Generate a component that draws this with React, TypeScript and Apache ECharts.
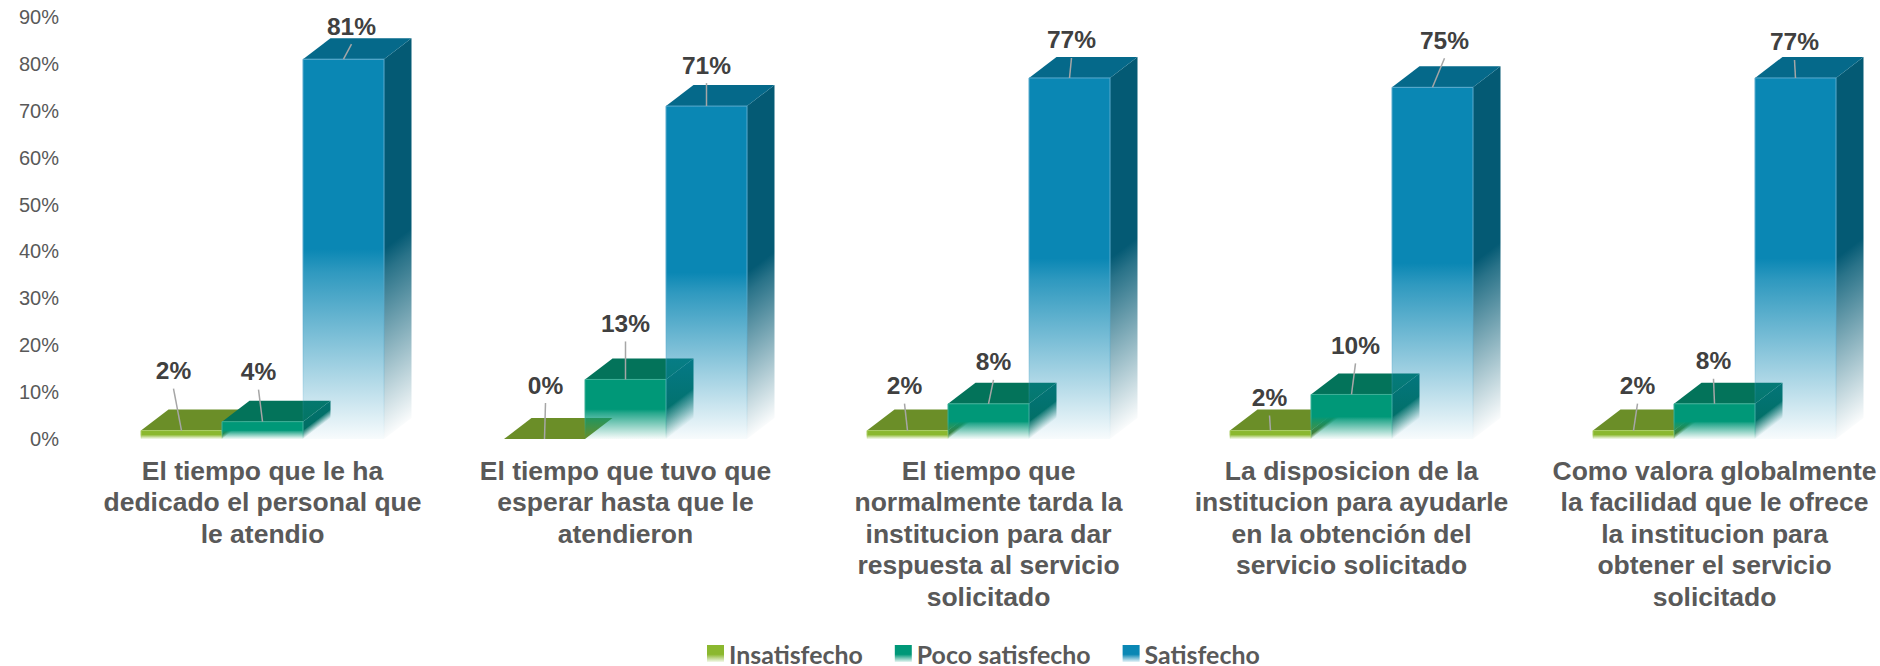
import React, { useEffect, useRef } from "react";
import * as echarts from "echarts";

const categories = [
  "El tiempo que le ha\ndedicado el personal que\nle atendio",
  "El tiempo que tuvo que\nesperar hasta que le\natendieron",
  "El tiempo que\nnormalmente tarda la\ninstitucion para dar\nrespuesta al servicio\nsolicitado",
  "La disposicion de la\ninstitucion para ayudarle\nen la obtención del\nservicio solicitado",
  "Como valora globalmente\nla facilidad que le ofrece\nla institucion para\nobtener el servicio\nsolicitado",
];
const insatisfecho = [1.8, 0, 1.8, 1.8, 1.8];
const pocoSatisfecho = [3.7, 12.7, 7.5, 9.5, 7.5];
const satisfecho = [81, 71, 77, 75, 77];

// Label placement relative to each bar's front top centre, in pixels
const insLabelDx = [-8, 1, -3, -1, 4];
const insLabelDy = [-60, -54, -45, -33, -45];
const pocoLabelDx = [-4, 0, 5, 4, -1];
const pocoLabelDy = [-50, -56, -42, -49, -43];
const satLabelDx = [8, 0, 2, 12, -1];
const satLabelDy = [-33, -41, -38, -47, -36];

const BAR_RATIO = 81 / 363;
const DEPTH_X = 27.5;
const DEPTH_Y = 21;

const fadeStops = (r: number, g: number, b: number, end = 0.03) => [
  { offset: 0, color: `rgba(${r},${g},${b},1)` },
  { offset: 0.5, color: `rgba(${r},${g},${b},1)` },
  { offset: 0.56, color: `rgba(${r},${g},${b},0.85)` },
  { offset: 1, color: `rgba(${r},${g},${b},${end})` },
];
const fade = (r: number, g: number, b: number, end = 0.03) =>
  new echarts.graphic.LinearGradient(0, 0, 0, 1, fadeStops(r, g, b, end));

const palettes = [
  { front: [139, 184, 47], side: [90, 120, 36], top: "#6b8e28", edge: [170, 205, 100] },
  { front: [0, 152, 120], side: [0, 108, 92], top: "#03735a", edge: [60, 175, 150] },
  { front: [10, 135, 180], side: [4, 90, 116], top: "#05698a", edge: [90, 170, 205] },
];

function bar3d(idx: number, dx: number[], dy: number[]) {
  const pal = palettes[idx];
  return (params: any, api: any) => {
    const i = params.dataIndex;
    const v = api.value(1);
    const band = api.size([1, 0])[0];
    const w = band * BAR_RATIO;
    const [cx, yTop] = api.coord([api.value(0), v]);
    const [, yBase] = api.coord([api.value(0), 0]);
    const mid = cx + (idx - 1) * w;
    const x0 = mid - w / 2;
    const x1 = mid + w / 2;
    const h = yBase - yTop;
    const [fr, fg, fb] = pal.front;
    const [sr, sg, sb] = pal.side;
    const [er, eg, eb] = pal.edge;
    const children: any[] = [];
    if (h > 0.5) {
      // Side-face fade follows the shear of the face, so its gradient runs normal to the depth edge
      const norm = Math.hypot(DEPTH_X, DEPTH_Y);
      const nx = DEPTH_Y / norm;
      const ny = DEPTH_X / norm;
      const len = h * ny;
      children.push({
        type: "polygon",
        shape: { points: [[x1, yTop], [x1 + DEPTH_X, yTop - DEPTH_Y], [x1 + DEPTH_X, yBase - DEPTH_Y], [x1, yBase]] },
        style: {
          fill: new echarts.graphic.LinearGradient(x1, yTop, x1 + nx * len, yTop + ny * len, fadeStops(sr, sg, sb, 0.02), true),
        },
      });
    }
    children.push({
      type: "polygon",
      shape: { points: [[x0, yTop], [x0 + DEPTH_X, yTop - DEPTH_Y], [x1 + DEPTH_X, yTop - DEPTH_Y], [x1, yTop]] },
      style: { fill: pal.top },
    });
    if (h > 0.5) {
      children.push({
        type: "rect",
        shape: { x: x0, y: yTop, width: w, height: h },
        style: { fill: fade(fr, fg, fb), stroke: fade(er, eg, eb, 0), lineWidth: 1 },
      });
    }
    const lx = mid + dx[i];
    const ly = yTop + dy[i];
    children.push({
      type: "line",
      shape: { x1: mid, y1: yTop, x2: lx, y2: ly + 18 },
      style: { stroke: "#a6a6a6", lineWidth: 1.5 },
    });
    children.push({
      type: "text",
      style: {
        text: `${Math.round(v)}%`,
        x: lx,
        y: ly,
        align: "center",
        verticalAlign: "middle",
        fontFamily: "Liberation Sans",
        fontSize: 24.5,
        fontWeight: "bold",
        fill: "#404040",
      },
    });
    return { type: "group", children };
  };
}

const legendFill = (c: number[]) =>
  new echarts.graphic.LinearGradient(0, 0, 0, 1, [
    { offset: 0, color: `rgb(${c.join(",")})` },
    { offset: 0.55, color: `rgb(${c.join(",")})` },
    { offset: 1, color: `rgba(${c.join(",")},0.1)` },
  ]);

function series(name: string, idx: number, values: number[], dx: number[], dy: number[]) {
  return {
    type: "custom",
    name,
    coordinateSystem: "cartesian2d",
    clip: false,
    encode: { x: 0, y: 1 },
    data: values.map((v, i) => [i, v]),
    itemStyle: { color: legendFill(palettes[idx].front) },
    renderItem: bar3d(idx, dx, dy),
  };
}

export default function App() {
  const ref = useRef<HTMLDivElement>(null);
  useEffect(() => {
    document.body.style.margin = "0";
    const chart = echarts.init(ref.current!, null, { renderer: "svg" });
    chart.setOption({
      animation: false,
      backgroundColor: "#ffffff",
      grid: { left: 81, top: 17, width: 1815, height: 422, containLabel: false, outerBoundsMode: "none" },
      legend: {
        left: 702,
        top: 636,
        itemWidth: 17,
        itemHeight: 17,
        itemGap: 32,
        icon: "rect",
        data: ["Insatisfecho", "Poco satisfecho", "Satisfecho"],
        textStyle: { fontFamily: "Lato", fontSize: 24.9, fontWeight: "bold", color: "#595959", lineHeight: 20 },
      },
      xAxis: {
        type: "category",
        data: categories,
        axisLine: { show: false },
        axisTick: { show: false },
        axisLabel: {
          interval: 0,
          margin: 16,
          fontFamily: "Liberation Sans",
          fontSize: 26.5,
          fontWeight: "bold",
          lineHeight: 31.5,
          color: "#595959",
          align: "center",
          verticalAlign: "top",
        },
      },
      yAxis: {
        type: "value",
        min: 0,
        max: 90,
        interval: 10,
        splitLine: { show: false },
        axisLine: { show: false },
        axisTick: { show: false },
        axisLabel: {
          formatter: "{value}%",
          margin: 22,
          fontFamily: "Liberation Sans",
          fontSize: 20,
          color: "#595959",
          padding: [2, 0, 0, 0],
        },
      },
      series: [
        series("Insatisfecho", 0, insatisfecho, insLabelDx, insLabelDy),
        series("Poco satisfecho", 1, pocoSatisfecho, pocoLabelDx, pocoLabelDy),
        series("Satisfecho", 2, satisfecho, satLabelDx, satLabelDy),
      ],
    });
    return () => chart.dispose();
  }, []);
  return <div ref={ref} style={{ width: 1880, height: 666 }} />;
}
